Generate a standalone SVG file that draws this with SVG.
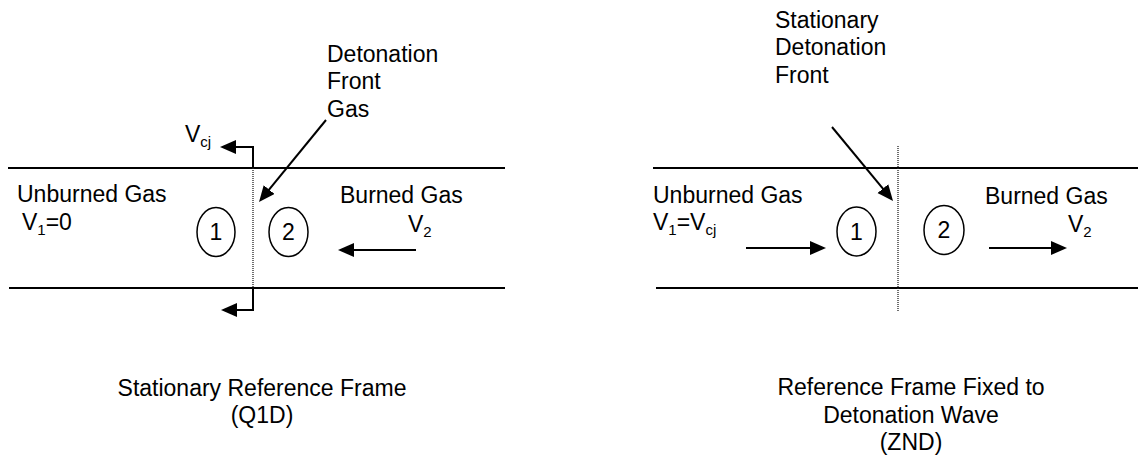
<svg xmlns="http://www.w3.org/2000/svg" width="1140" height="458" viewBox="0 0 1140 458">
<style>
text{font-family:"Liberation Sans",Arial,sans-serif;font-size:23px;fill:#000}
.sub{font-size:15px}
.tube{stroke:#000;stroke-width:2;fill:none}
.front{stroke:#222;stroke-width:1.3;stroke-dasharray:1 1;fill:none}
.arrow{stroke:#000;stroke-width:2;fill:none;marker-end:url(#ah)}
.st{fill:#fff;stroke:#000;stroke-width:1.5}
.num{text-anchor:middle}
.cap{text-anchor:middle}
</style>
<defs>
<marker id="ah" markerUnits="userSpaceOnUse" markerWidth="17" markerHeight="15" refX="4" refY="7" orient="auto">
<path d="M0,0 L16,7 L0,14 z" fill="#000"/>
</marker>
</defs>
<rect width="1140" height="458" fill="#fff"/>

<g id="left-tube">
<line class="tube" x1="8" y1="168" x2="505" y2="168"/>
<line class="tube" x1="9" y1="288" x2="505" y2="288"/>
<line class="front" x1="253" y1="168" x2="253" y2="288"/>
</g>
<g id="left-state1">
<ellipse class="st" cx="216" cy="232" rx="19" ry="24.5"/>
<text class="num" x="216" y="240">1</text>
</g>
<g id="left-state2">
<ellipse class="st" cx="288.5" cy="232" rx="19.5" ry="24.5"/>
<text class="num" x="288.5" y="240">2</text>
</g>
<g id="left-unburned">
<text x="17" y="202">Unburned Gas</text>
<text x="22" y="230">V<tspan class="sub" dy="5">1</tspan><tspan dy="-5">=0</tspan></text>
</g>
<g id="left-burned">
<text x="340" y="203">Burned Gas</text>
<text x="408" y="232">V<tspan class="sub" dy="5">2</tspan></text>
</g>
<g id="left-vcj">
<text x="185" y="142">V<tspan class="sub" dy="5">cj</tspan></text>
</g>
<g id="left-front-label">
<text x="327" y="62">Detonation</text>
<text x="327" y="89">Front</text>
<text x="327" y="117">Gas</text>
</g>
<g id="left-caption">
<text class="cap" x="262" y="396">Stationary Reference Frame</text>
<text class="cap" x="262" y="423">(Q1D)</text>
</g>

<g id="right-tube">
<line class="tube" x1="653" y1="168" x2="1138" y2="168"/>
<line class="tube" x1="656" y1="288" x2="1138" y2="288"/>
<line class="front" x1="898" y1="146" x2="898" y2="312"/>
</g>
<g id="right-state1">
<ellipse class="st" cx="856.5" cy="231.5" rx="19.5" ry="24.5"/>
<text class="num" x="856.5" y="239.5">1</text>
</g>
<g id="right-state2">
<ellipse class="st" cx="944" cy="230" rx="20" ry="24.5"/>
<text class="num" x="944" y="238">2</text>
</g>
<g id="right-unburned">
<text x="653" y="203">Unburned Gas</text>
<text x="653" y="230">V<tspan class="sub" dy="5">1</tspan><tspan dy="-5">=V</tspan><tspan class="sub" dy="5">cj</tspan></text>
</g>
<g id="right-burned">
<text x="985" y="204">Burned Gas</text>
<text x="1068" y="232">V<tspan class="sub" dy="5">2</tspan></text>
</g>
<g id="right-front-label">
<text x="775" y="28">Stationary</text>
<text x="775" y="55">Detonation</text>
<text x="775" y="83">Front</text>
</g>
<g id="right-caption">
<text class="cap" x="911" y="395">Reference Frame Fixed to</text>
<text class="cap" x="911" y="423">Detonation Wave</text>
<text class="cap" x="911" y="450">(ZND)</text>
</g>

<g id="connectors">
<path class="arrow" d="M253,168 V147 H232"/>
<path class="arrow" d="M253,288 V310 H233"/>
<line class="arrow" x1="326" y1="120" x2="266.6" y2="192.7"/>
<line class="arrow" x1="416" y1="250" x2="350" y2="250"/>
<line class="arrow" x1="832" y1="127" x2="885.4" y2="191.7"/>
<line class="arrow" x1="746" y1="248" x2="814" y2="248"/>
<line class="arrow" x1="989" y1="248" x2="1055" y2="248"/>
</g>
</svg>
